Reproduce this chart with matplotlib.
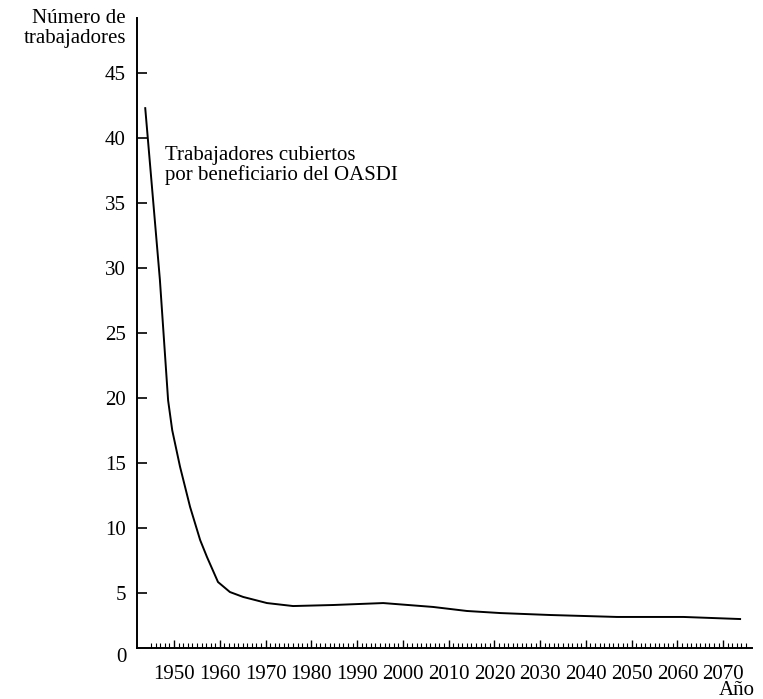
import matplotlib as mpl

mpl.use('Agg')
import matplotlib.pyplot as plt
import numpy as np

# values
years = [1943.7, 1946.9, 1948.7, 1949.6, 1951.3, 1953.5, 1955.7, 1957.2,
         1959.6, 1962.2, 1965.1, 1970.3, 1976.0, 1984.8, 1995.7, 2006.6,
         2014.0, 2021.3, 2032.2, 2046.8, 2061.3, 2073.7]
workers = [42.3, 29.1, 19.8, 17.5, 14.7, 11.6, 9.05, 7.74,
           5.82, 5.05, 4.67, 4.2, 3.97, 4.05, 4.2, 3.9,
           3.59, 3.43, 3.28, 3.13, 3.13, 2.97]

ytick_vals = [5, 10, 15, 20, 25, 30, 35, 40, 45]
xtick_vals = list(range(1950, 2071, 10))

plt.rcParams['font.family'] = ['Liberation Serif', 'DejaVu Serif']
plt.rcParams['font.size'] = 15

fig = plt.figure(figsize=(7.63, 6.99), dpi=100)
ax = fig.add_axes([137 / 763, 51 / 699, 615 / 763, 630 / 699])

ax.plot(years, workers, color='black', lw=1.4)

# the horizontal axis line sits a little above zero in the original
ax.set_xlim(1941.9, 2076.3)
ax.set_ylim(0.74, 49.24)

for s in ['top', 'right']:
    ax.spines[s].set_visible(False)
for s in ['left', 'bottom']:
    ax.spines[s].set_linewidth(1.4)

ax.set_yticks(ytick_vals)
ax.tick_params(axis='y', direction='in', length=7, width=1.2, pad=8)
ax.set_xticks(xtick_vals)
ax.set_xticks(np.arange(1945, 2076, 1), minor=True)
ax.tick_params(axis='x', which='major', direction='in', length=6, width=1.0, pad=12)
ax.tick_params(axis='x', which='minor', direction='in', length=3.5, width=0.8)

fig.text(127 / 763, 1 - 657 / 699, '0', ha='right', va='center')

ax.text(1948.0, 39.4, 'Trabajadores cubiertos\npor beneficiario del OASDI',
        ha='left', va='top', linespacing=1.05)

fig.text(126 / 763, 1 - 9 / 699, 'Número de\ntrabajadores', ha='right', va='top',
         linespacing=1.05)
fig.text(755 / 763, 1 - 695 / 699, 'Año', ha='right', va='baseline')

fig.savefig('out.png', dpi=100)
